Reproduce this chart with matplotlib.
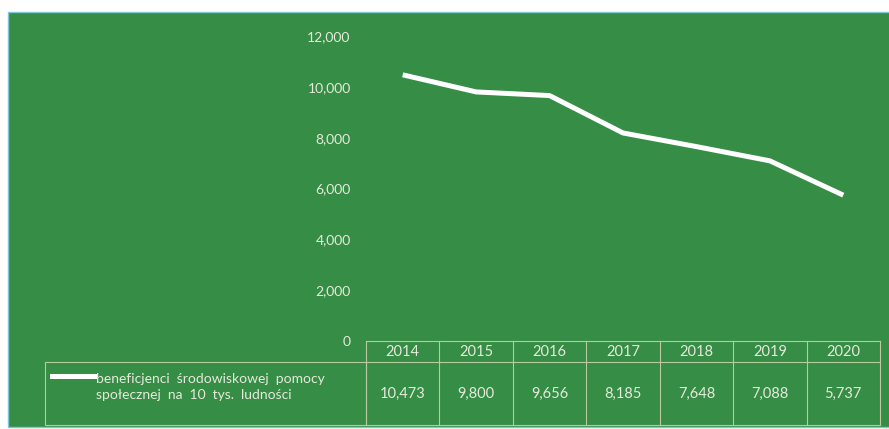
import matplotlib.pyplot as plt
from matplotlib.patches import Rectangle
from matplotlib.lines import Line2D
from matplotlib.ticker import FuncFormatter

years = ['2014', '2015', '2016', '2017', '2018', '2019', '2020']
values = [10473, 9800, 9656, 8185, 7648, 7088, 5737]
series_name = 'beneficjenci  środowiskowej  pomocy\nspołecznej  na  10  tys.  ludności'

W, H = 889, 429
green = '#358d46'
txt = '#e6eadb'
grid = '#b9c9a0'

plt.rcParams['font.family'] = ['Lato', 'DejaVu Sans']

fig = plt.figure(figsize=(W / 100, H / 100), dpi=100)
fig.patch.set_facecolor('white')


def fx(px):
    return px / W


def fy(py):
    return 1 - py / H


# green chart area
fig.add_artist(Rectangle((fx(8), fy(427)), fx(892) - fx(8), fy(12) - fy(427),
                         transform=fig.transFigure, facecolor=green,
                         edgecolor='#7fc6d6', lw=1.0, zorder=0))

ax = fig.add_axes([fx(366), fy(341), fx(880) - fx(366), fy(36) - fy(341)])
ax.set_facecolor('none')
x = list(range(len(years)))
ax.plot(x, values, color='white', lw=3.6, solid_capstyle='butt', zorder=3)
ax.set_xlim(-0.5, len(years) - 0.5)
ax.set_ylim(0, 12000)
ax.set_yticks(range(0, 12001, 2000))
ax.yaxis.set_major_formatter(FuncFormatter(lambda v, p: f'{int(v):,}'))
ax.tick_params(axis='y', length=0, pad=11, labelsize=10, labelcolor=txt)
ax.set_xticks([])
for s in ['top', 'right', 'left']:
    ax.spines[s].set_visible(False)
ax.spines['bottom'].set_color(grid)
ax.spines['bottom'].set_linewidth(0.8)

# data table under the chart
bt = ax.get_xaxis_transform()
h_row = -21 / 305
d_row = -84 / 305
for i in range(len(years) + 1):
    ax.add_line(Line2D([i - 0.5, i - 0.5], [0, d_row], transform=bt, color=grid,
                       lw=0.8, clip_on=False))
ax.add_line(Line2D([-0.5, len(years) - 0.5], [h_row, h_row], transform=bt,
                   color=grid, lw=0.8, clip_on=False))
ax.add_line(Line2D([-0.5, len(years) - 0.5], [d_row, d_row], transform=bt,
                   color=grid, lw=0.8, clip_on=False))
for i, (yr, v) in enumerate(zip(years, values)):
    ax.text(i, h_row / 2, yr, transform=bt, ha='center', va='center',
            color=txt, fontsize=10.5)
    ax.text(i, (h_row + d_row) / 2, f'{v:,}', transform=bt, ha='center',
            va='center', color=txt, fontsize=10.5)

# legend cell
fig.add_artist(Rectangle((fx(45), fy(425)), fx(366) - fx(45), fy(362) - fy(425),
                         transform=fig.transFigure, facecolor='none',
                         edgecolor=grid, lw=0.8))
fig.add_artist(Line2D([fx(52), fx(94)], [fy(376), fy(376)], transform=fig.transFigure,
                      color='white', lw=3.6))
fig.text(fx(96), fy(387), series_name, ha='left', va='center', color=txt,
         fontsize=10, linespacing=1.45)

fig.savefig('out.png', dpi=100, facecolor='white')
